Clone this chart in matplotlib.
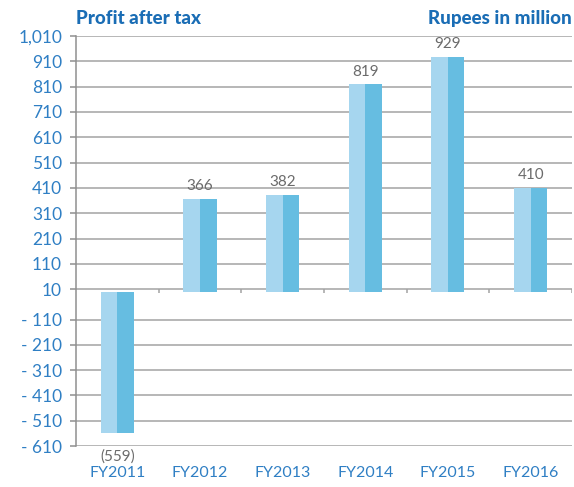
import matplotlib
matplotlib.use("Agg")
import matplotlib.pyplot as plt
import numpy as np

plt.rcParams['font.family'] = ['Lato', 'DejaVu Sans']

# data
years = ['FY2011', 'FY2012', 'FY2013', 'FY2014', 'FY2015', 'FY2016']
profit = [-559, 366, 382, 819, 929, 410]
y_ticks = [1010, 910, 810, 710, 610, 510, 410, 310, 210, 110, 10,
           -110, -210, -310, -410, -510, -610]

blue_text = '#2f7fc4'
title_blue = '#1a6db5'
light_bar = '#a6d6ef'
dark_bar = '#66bde1'
grid_gray = '#a3a3a3'


def fmt_tick(v):
    if v < 0:
        return '- {:,}'.format(-v)
    return '{:,}'.format(v)


def fmt_value(v):
    if v < 0:
        return '({:,})'.format(-v)
    return '{:,}'.format(v)


fig = plt.figure(figsize=(5.74, 4.87), dpi=100)
ax = fig.add_axes([0.1324, 0.084, 0.864, 0.842])

x = np.arange(len(years))
half = 0.2
ax.bar(x - half / 2, profit, width=half, color=light_bar, zorder=3)
ax.bar(x + half / 2, profit, width=half, color=dark_bar, zorder=3)

for xi, v in zip(x, profit):
    if v >= 0:
        ax.text(xi, v + 22, fmt_value(v), ha='center', va='bottom',
                fontsize=11, color='#6b6b6b')
    else:
        ax.text(xi, v - 92, fmt_value(v), ha='center', va='center',
                fontsize=11, color='#6b6b6b', zorder=4, clip_on=False)

ax.set_ylim(-610, 1010)
ax.set_xlim(-0.5, len(years) - 0.5)
ax.set_yticks(y_ticks)
ax.set_yticklabels([fmt_tick(v) for v in y_ticks])
ax.set_xticks(x)
ax.set_xticklabels(years)

ax.yaxis.grid(True, color=grid_gray, linewidth=1.1, zorder=0)
ax.set_axisbelow(True)

# small ticks on the zero-line at category boundaries
bounds = np.arange(len(years)) + 0.5
ax.vlines(bounds, -5, 10, color=grid_gray, linewidth=1.1, zorder=2)

for s in ['top', 'right', 'bottom']:
    ax.spines[s].set_visible(False)
ax.spines['left'].set_color('#8f8f8f')
ax.spines['left'].set_linewidth(1.1)

ax.tick_params(axis='y', colors='#8f8f8f', length=4, width=1.1,
               labelcolor=blue_text, labelsize=12.5, pad=6)
ax.tick_params(axis='x', length=0, labelcolor=blue_text, labelsize=11.5, pad=14)

fig.text(0.1324, 0.963, 'Profit after tax', ha='left', va='center',
         fontsize=13.5, fontweight='black', color=title_blue)
fig.text(0.9965, 0.963, 'Rupees in million', ha='right', va='center',
         fontsize=13.5, fontweight='black', color=title_blue)

fig.savefig('out.png', dpi=100)
